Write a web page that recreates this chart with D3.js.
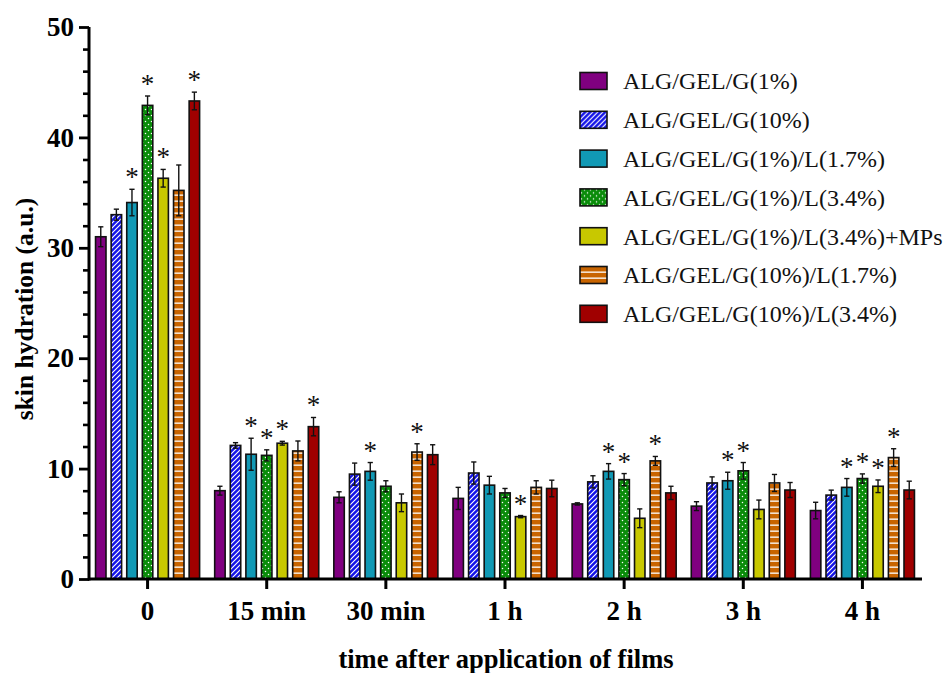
<!DOCTYPE html>
<html>
<head>
<meta charset="utf-8">
<script src="https://cdn.jsdelivr.net/npm/d3@7"></script>
<style>
  html, body { margin: 0; padding: 0; background: #fff; }
  svg { display: block; }
</style>
</head>
<body>
<svg id="chart" width="952" height="673"></svg>
<script>
// ---------- data ----------
const categories = ["0", "15 min", "30 min", "1 h", "2 h", "3 h", "4 h"];
const seriesNames = [
  "ALG/GEL/G(1%)",
  "ALG/GEL/G(10%)",
  "ALG/GEL/G(1%)/L(1.7%)",
  "ALG/GEL/G(1%)/L(3.4%)",
  "ALG/GEL/G(1%)/L(3.4%)+MPs",
  "ALG/GEL/G(10%)/L(1.7%)",
  "ALG/GEL/G(10%)/L(3.4%)"
];
const meanG1      = [31.0, 8.0, 7.4, 7.3, 6.8, 6.6, 6.2];
const meanG10     = [33.0, 12.1, 9.5, 9.6, 8.8, 8.7, 7.6];
const meanG1L17   = [34.1, 11.3, 9.75, 8.5, 9.75, 8.9, 8.3];
const meanG1L34   = [42.9, 11.2, 8.4, 7.8, 9.0, 9.8, 9.1];
const meanG1L34MP = [36.3, 12.3, 6.9, 5.65, 5.5, 6.3, 8.4];
const meanG10L17  = [35.2, 11.6, 11.5, 8.3, 10.7, 8.7, 11.0];
const meanG10L34  = [43.3, 13.8, 11.26, 8.2, 7.8, 8.06, 8.06];

const sdG1      = [0.9, 0.4, 0.5, 1.0, 0.1, 0.4, 0.75];
const sdG10     = [0.5, 0.25, 1.0, 1.0, 0.55, 0.55, 0.45];
const sdG1L17   = [1.2, 1.45, 0.8, 0.8, 0.7, 0.77, 0.8];
const sdG1L34   = [0.85, 0.5, 0.5, 0.4, 0.55, 0.75, 0.42];
const sdG1L34MP = [0.8, 0.17, 0.8, 0.1, 0.85, 0.85, 0.57];
const sdG10L17  = [2.3, 0.9, 0.75, 0.6, 0.4, 0.77, 0.8];
const sdG10L34  = [0.8, 0.83, 0.9, 0.75, 0.6, 0.68, 0.8];

// significance markers (*)
const sigG1      = [0, 0, 0, 0, 0, 0, 0];
const sigG10     = [0, 0, 0, 0, 0, 0, 0];
const sigG1L17   = [1, 1, 1, 0, 1, 1, 1];
const sigG1L34   = [1, 1, 0, 0, 1, 1, 1];
const sigG1L34MP = [1, 1, 0, 1, 0, 0, 1];
const sigG10L17  = [0, 0, 1, 0, 1, 0, 1];
const sigG10L34  = [1, 1, 0, 0, 0, 0, 0];

const yTicks = [0, 10, 20, 30, 40, 50];

const means = [meanG1, meanG10, meanG1L17, meanG1L34, meanG1L34MP, meanG10L17, meanG10L34];
const sds   = [sdG1, sdG10, sdG1L17, sdG1L34, sdG1L34MP, sdG10L17, sdG10L34];
const sigs  = [sigG1, sigG10, sigG1L17, sigG1L34, sigG1L34MP, sigG10L17, sigG10L34];

// ---------- styles ----------
const colors = ["#800080", "#1414e8", "#1199b5", "#0a8c0a", "#c8c800", "#c86400", "#a00000"];
const fills  = ["#800080", "url(#pHatch)", "#1199b5", "url(#pDots)", "#c8c800", "url(#pStripes)", "#a00000"];
const serif = "'Liberation Serif', 'Times New Roman', Times, serif";

const svg = d3.select("#chart");
const defs = svg.append("defs");

// diagonal hatch (blue)
const ph = defs.append("pattern").attr("id", "pHatch").attr("patternUnits", "userSpaceOnUse")
  .attr("width", 5).attr("height", 5);
ph.append("rect").attr("width", 5).attr("height", 5).attr("fill", colors[1]);
ph.append("path").attr("d", "M-1,1 l2,-2 M0,5 l5,-5 M4,6 l2,-2")
  .attr("stroke", "#ffffff").attr("stroke-width", 1.1);

// dots (green)
const pd = defs.append("pattern").attr("id", "pDots").attr("patternUnits", "userSpaceOnUse")
  .attr("width", 6).attr("height", 6);
pd.append("rect").attr("width", 6).attr("height", 6).attr("fill", colors[3]);
pd.append("circle").attr("cx", 1.5).attr("cy", 1.5).attr("r", 0.75).attr("fill", "#ffffff");
pd.append("circle").attr("cx", 4.5).attr("cy", 4.5).attr("r", 0.75).attr("fill", "#ffffff");

// horizontal stripes (orange)
const ps = defs.append("pattern").attr("id", "pStripes").attr("patternUnits", "userSpaceOnUse")
  .attr("width", 6).attr("height", 6);
ps.append("rect").attr("width", 6).attr("height", 6).attr("fill", colors[5]);
ps.append("rect").attr("y", 2.5).attr("width", 6).attr("height", 1.3).attr("fill", "#ffffff");

// ---------- scales ----------
const x0 = d3.scaleBand().domain(categories).range([88, 922]).padding(0);
const x1 = d3.scaleBand().domain(d3.range(seriesNames.length))
  .range([-54.6, 54.6]).paddingInner(0.33).paddingOuter(0.165);
const y = d3.scaleLinear().domain([0, 50]).range([579, 27]);

// ---------- bars ----------
const rows = [];
means.forEach((m, si) => {
  m.forEach((v, ci) => {
    rows.push({ si, cat: categories[ci], v, sd: sds[si][ci], sig: sigs[si][ci] });
  });
});

const g = svg.append("g");
const bx = d => x0(d.cat) + x0.bandwidth() / 2 + x1(d.si);
const bw = x1.bandwidth();

g.selectAll("rect.bar").data(rows).join("rect")
  .attr("class", "bar")
  .attr("x", bx)
  .attr("y", d => y(d.v))
  .attr("width", bw)
  .attr("height", d => y(0) - y(d.v))
  .attr("fill", d => fills[d.si])
  .attr("stroke", "#111")
  .attr("stroke-width", 1.6);

// error bars
const capW = 2.6;
const eb = g.selectAll("g.err").data(rows).join("g").attr("class", "err")
  .attr("stroke", "#111").attr("stroke-width", 1.4);
eb.append("line")
  .attr("x1", d => bx(d) + bw / 2).attr("x2", d => bx(d) + bw / 2)
  .attr("y1", d => y(d.v + d.sd)).attr("y2", d => y(d.v - d.sd));
eb.append("line")
  .attr("x1", d => bx(d) + bw / 2 - capW).attr("x2", d => bx(d) + bw / 2 + capW)
  .attr("y1", d => y(d.v + d.sd)).attr("y2", d => y(d.v + d.sd));
eb.append("line")
  .attr("x1", d => bx(d) + bw / 2 - capW).attr("x2", d => bx(d) + bw / 2 + capW)
  .attr("y1", d => y(d.v - d.sd)).attr("y2", d => y(d.v - d.sd));

// stars
g.selectAll("text.star").data(rows.filter(d => d.sig)).join("text")
  .attr("class", "star")
  .attr("x", d => bx(d) + bw / 2)
  .attr("y", d => y(d.v + d.sd) - 3)
  .attr("text-anchor", "middle")
  .attr("font-family", serif)
  .attr("font-size", 27)
  .attr("fill", "#111")
  .text("*");

// ---------- axes ----------
const yAxis = d3.axisLeft(y).tickValues(yTicks).tickSize(10).tickPadding(5).tickFormat(d3.format("d"));
const yAx = svg.append("g").attr("transform", "translate(89,0)").call(yAxis);
// minor ticks
svg.append("g").attr("transform", "translate(89,0)")
  .call(d3.axisLeft(y).tickValues(d3.range(0, 51, 2).filter(v => v % 10 !== 0)).tickSize(6).tickFormat(""))
  .call(a => a.select(".domain").remove())
  .selectAll("line").attr("stroke", "#000").attr("stroke-width", 2.6);
yAx.select(".domain").attr("d", `M0,${y(0) + 1.5}V${y(50)}`).attr("stroke", "#000").attr("stroke-width", 3);
yAx.selectAll(".tick line").attr("stroke", "#000").attr("stroke-width", 2.8);
yAx.selectAll(".tick text")
  .attr("font-family", serif).attr("font-weight", "bold").attr("font-size", 27).attr("fill", "#000");

const xAxis = d3.axisBottom(x0).tickSize(10).tickPadding(12).tickSizeOuter(0);
const xAx = svg.append("g").attr("transform", `translate(0,${y(0)})`).call(xAxis);
xAx.select(".domain").attr("d", "M88,0H922").attr("stroke", "#000").attr("stroke-width", 3);
xAx.selectAll(".tick line").attr("stroke", "#000").attr("stroke-width", 3);
xAx.selectAll(".tick text")
  .attr("font-family", serif).attr("font-weight", "bold").attr("font-size", 27).attr("fill", "#000");

// axis titles
svg.append("text")
  .attr("x", 506).attr("y", 668)
  .attr("text-anchor", "middle")
  .attr("font-family", serif).attr("font-weight", "bold").attr("font-size", 26.5)
  .text("time after application of films");

svg.append("text")
  .attr("transform", "translate(33,309) rotate(-90)")
  .attr("text-anchor", "middle")
  .attr("font-family", serif).attr("font-weight", "bold").attr("font-size", 25.5)
  .text("skin hydration (a.u.)");

// ---------- legend ----------
const lg = svg.append("g").attr("transform", "translate(580,81)");
const li = lg.selectAll("g").data(seriesNames).join("g")
  .attr("transform", (d, i) => `translate(0,${i * 38.8})`);
li.append("rect")
  .attr("x", 0).attr("y", -8.5).attr("width", 27).attr("height", 17)
  .attr("fill", (d, i) => fills[i]).attr("stroke", "#111").attr("stroke-width", 1.6);
li.append("text")
  .attr("x", 43).attr("y", 0).attr("dy", "0.35em")
  .attr("font-family", serif).attr("font-size", 24).attr("fill", "#111")
  .text(d => d);
</script>
</body>
</html>
